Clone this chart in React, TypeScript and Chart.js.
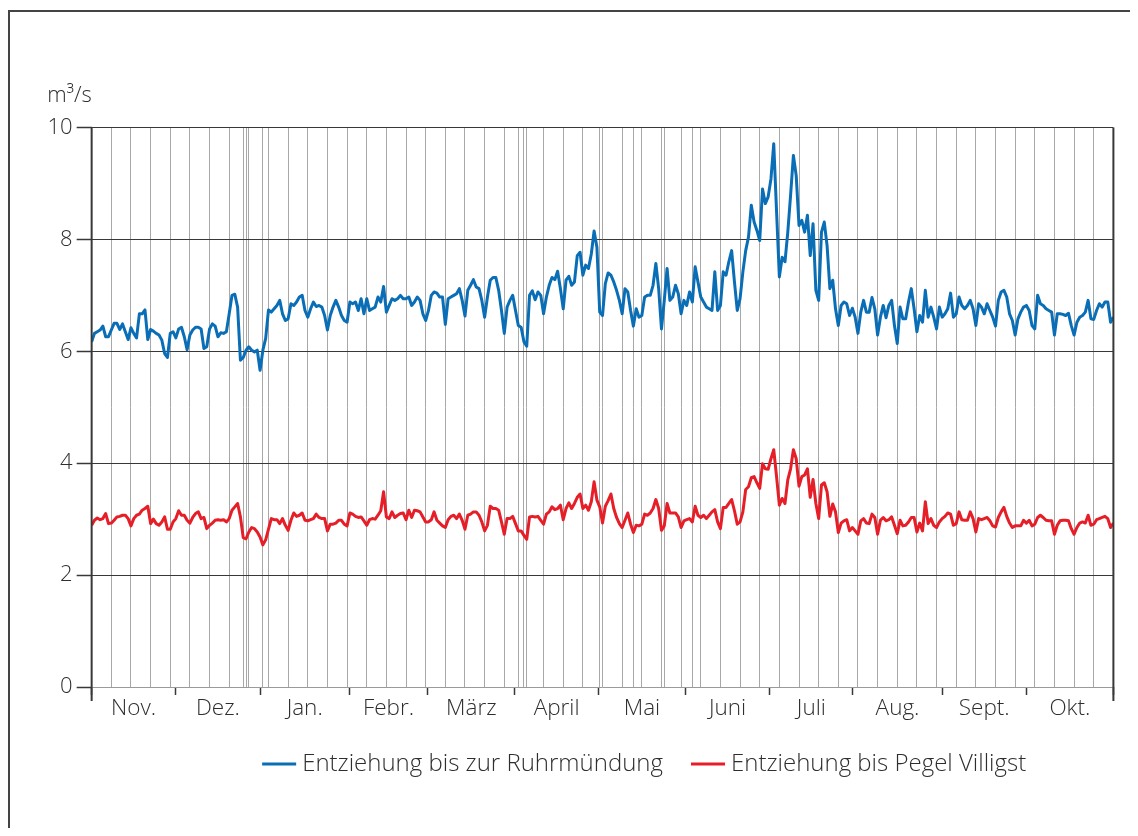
import { useEffect, useRef } from "react";
import { Chart, registerables } from "chart.js";

Chart.register(...registerables);

// ---- data (daily values, 1 Nov – 31 Oct) ----
const ruhrmuendung: number[] = [
  6.17,
  6.32, 6.35, 6.38, 6.45, 6.26, 6.26, 6.38, 6.5, 6.5, 6.39,
  6.49, 6.35, 6.21, 6.42, 6.32, 6.24, 6.67, 6.67, 6.74, 6.21,
  6.39, 6.36, 6.32, 6.29, 6.2, 5.96, 5.89, 6.32, 6.35, 6.24,
  6.4, 6.43, 6.26, 6.03, 6.29, 6.38, 6.43, 6.43, 6.4, 6.05,
  6.08, 6.4, 6.49, 6.45, 6.26, 6.33, 6.32, 6.35, 6.67, 7.0,
  7.02, 6.79, 5.84, 5.89, 6.02, 6.08, 6.02, 5.99, 6.02, 5.66,
  6.02, 6.23, 6.74, 6.7, 6.76, 6.82, 6.91, 6.67, 6.55, 6.58,
  6.85, 6.82, 6.88,
  6.97, 7.0, 6.73, 6.61, 6.76, 6.88, 6.8, 6.82, 6.79, 6.64,
  6.38, 6.64, 6.79, 6.91, 6.79, 6.64, 6.55, 6.52, 6.88, 6.85,
  6.88, 6.73, 6.94, 6.67, 6.94, 6.73, 6.76, 6.79, 6.97, 6.88,
  7.16, 6.7, 6.82, 6.94, 6.91, 6.94, 7.0, 6.94, 6.94, 6.97,
  6.82, 6.88, 6.97, 6.91, 6.67, 6.55, 6.73, 7.0, 7.06, 7.04,
  6.97, 6.97, 6.48, 6.94, 6.97, 7.0, 7.03, 7.12, 6.91, 6.63,
  7.09, 7.18, 7.28, 7.15, 7.12, 6.91, 6.61, 6.97, 7.27, 7.32,
  7.32, 7.09, 6.73, 6.32,
  6.79, 6.91, 7.0, 6.73, 6.46, 6.43, 6.17, 6.09, 7.0, 7.08,
  6.92, 7.06, 7.0, 6.67, 6.97, 7.18, 7.32, 7.28, 7.43, 7.12,
  6.76, 7.27, 7.34, 7.18, 7.24, 7.71, 7.77, 7.36, 7.54, 7.48,
  7.74, 8.15, 7.86, 6.7, 6.64, 7.21, 7.4, 7.36, 7.24, 7.09,
  6.91, 6.67, 7.12, 7.06, 6.73, 6.45, 6.76, 6.61, 6.64, 6.97,
  7.0, 7.0, 7.18, 7.57, 7.12, 6.4, 6.91, 7.48, 6.91, 6.97,
  7.18, 7.03, 6.67, 6.91, 6.82, 7.06, 6.88, 7.51, 7.24, 6.97,
  6.88, 6.79, 6.76,
  6.73, 7.42, 6.73, 6.82, 7.42, 7.36, 7.6, 7.8, 7.24, 6.73,
  6.94, 7.42, 7.8, 8.04, 8.61, 8.31, 8.16, 7.98, 8.9, 8.64,
  8.76, 9.08, 9.71, 8.5, 7.33, 7.68, 7.6, 8.13, 8.79, 9.5,
  9.14, 8.25, 8.34, 8.13, 8.43, 7.71, 8.28, 7.09, 6.91, 8.13,
  8.31, 7.89, 7.12, 7.27, 6.76, 6.46, 6.82, 6.88, 6.85, 6.64,
  6.77, 6.61, 6.32, 6.7, 6.91, 6.7, 6.7, 6.96, 6.76, 6.29,
  6.61, 6.82, 6.6, 6.82, 6.91, 6.46, 6.14, 6.79, 6.58, 6.58,
  6.88, 7.12, 6.76,
  6.35, 6.64, 6.52, 7.09, 6.61, 6.79, 6.61, 6.4, 6.79, 6.61,
  6.67, 6.76, 7.04, 6.61, 6.67, 6.97, 6.82, 6.76, 6.82, 6.91,
  6.76, 6.46, 6.85, 6.79, 6.67, 6.85, 6.73, 6.61, 6.45, 6.91,
  7.06, 7.09, 6.97, 6.67, 6.55, 6.29, 6.58, 6.7, 6.79, 6.82,
  6.73, 6.46, 6.4, 7.0, 6.85, 6.82, 6.76, 6.73, 6.7, 6.29,
  6.67, 6.67, 6.66, 6.64, 6.68, 6.46, 6.29, 6.52, 6.61, 6.64,
  6.7, 6.91, 6.58, 6.57, 6.73, 6.85, 6.79, 6.88, 6.88, 6.52,
  6.61,
];

const pegelVilligst: number[] = [
  2.89, 2.98, 3.02, 2.99, 3.01, 3.1, 2.92, 2.93, 2.98, 3.04,
  3.05, 3.07, 3.07, 3.01, 2.88, 3.01, 3.07, 3.09, 3.16, 3.19,
  3.23, 2.92, 3.0, 2.92, 2.89, 2.95, 3.04, 2.82, 2.82, 2.95,
  3.01, 3.15, 3.07, 3.07, 2.98, 2.93, 3.03, 3.1, 3.13, 3.01,
  3.03, 2.83, 2.89, 2.93, 2.98, 2.99, 2.98, 2.99, 2.95, 3.01,
  3.16, 3.22, 3.28, 3.04, 2.67, 2.65, 2.77, 2.85, 2.83, 2.77,
  2.68, 2.54, 2.63, 2.82, 3.01, 2.99, 2.99, 2.92, 3.01, 2.89,
  2.8, 2.98, 3.11, 3.05, 3.07, 3.11, 2.98, 2.97, 2.99, 3.01,
  3.09, 3.03, 3.01, 3.01, 2.79, 2.91, 2.91, 2.93, 2.98, 2.98,
  2.91, 2.88, 3.11, 3.09, 3.05, 3.03, 3.04, 2.97, 2.89, 2.99,
  3.01, 3.0, 3.07, 3.15, 3.49, 3.04, 3.01, 3.13, 3.03, 3.07,
  3.1, 3.11, 2.99, 3.16, 3.03, 3.16, 3.15, 3.13, 3.04, 2.95,
  2.95, 2.99, 3.13, 2.98, 2.93, 2.88, 2.85, 2.99, 3.05, 3.07,
  3.01, 3.09, 2.98, 2.82, 3.07, 3.09, 3.13, 3.13, 3.07, 2.95,
  2.79, 2.89, 3.23, 3.19, 3.19, 3.16, 2.95, 2.73, 3.01, 3.01,
  3.05, 2.92, 2.79, 2.79, 2.71, 2.64, 3.04, 3.05, 3.04, 3.05,
  2.98, 2.91, 3.09, 3.13, 3.22, 3.17, 3.19, 3.25, 2.99, 3.19,
  3.29, 3.19, 3.28, 3.39, 3.45, 3.19, 3.25, 3.16, 3.31, 3.67,
  3.34, 3.22, 2.93, 3.23, 3.33, 3.45, 3.19, 3.03, 2.92, 2.85,
  2.98, 3.11, 2.91, 2.76, 2.89, 2.88, 2.91, 3.09, 3.07, 3.11,
  3.19, 3.35, 3.19, 2.8, 2.88, 3.28, 3.11, 3.11, 3.11, 3.04,
  2.85, 2.97, 2.99, 3.01, 2.95, 3.23, 3.07, 3.03, 3.07, 3.01,
  3.07, 3.13, 3.17, 2.95, 2.83, 3.21, 3.21, 3.28, 3.35, 3.15,
  2.91, 2.95, 3.13, 3.53, 3.58, 3.74, 3.76, 3.65, 3.55, 3.99,
  3.9,
  3.89, 4.08, 4.24, 3.76, 3.25, 3.37, 3.28, 3.7, 3.9, 4.24,
  4.08, 3.59, 3.76, 3.79, 3.9, 3.39, 3.71, 3.28, 3.01, 3.61,
  3.65, 3.49, 3.05, 3.27, 3.13, 2.76, 2.93, 2.97, 2.99, 2.79,
  2.85, 2.79, 2.73, 2.97, 3.01, 2.93, 2.92, 3.09, 3.03, 2.73,
  2.98, 3.03, 2.97, 2.99, 3.04, 2.89, 2.74, 2.98, 2.88, 2.89,
  2.95, 3.03, 3.03, 2.77, 2.93, 2.79, 3.31, 2.92, 3.01, 2.89,
  2.85, 2.95, 3.01, 3.05, 3.11, 3.09, 2.89, 2.92, 3.13, 2.99,
  2.98, 2.98, 3.13, 3.01, 2.77, 3.01, 2.99, 3.01, 3.03, 2.97,
  2.88, 2.86, 3.03, 3.13, 3.21, 3.05, 2.93, 2.85, 2.88, 2.88,
  2.88, 2.98, 2.93, 2.98, 2.88, 2.91, 3.03, 3.07, 3.03, 2.98,
  2.97, 2.97, 2.73, 2.89, 2.97, 2.98, 2.98, 2.97, 2.83, 2.73,
  2.85, 2.93, 2.95, 2.93, 3.07, 2.89, 2.91, 2.99, 3.01, 3.03,
  3.05, 3.01, 2.85, 2.93,
];

const seriesLabels: string[] = [
  "Entziehung bis zur Ruhrmündung",
  "Entziehung bis Pegel Villigst",
];
const monthLabels: string[] = [
  "Nov.", "Dez.", "Jan.", "Febr.", "März", "April",
  "Mai", "Juni", "Juli", "Aug.", "Sept.", "Okt.",
];
// month boundaries on the day axis (day 0 = 1 Nov)
const monthBounds: number[] = [
  0, 29.9, 60.1, 91.7, 119.8, 150.7, 180.6, 211.5, 241.6, 271.2, 303, 333, 364,
];
// public holidays marked with an extra vertical line (days since 1 Nov)
const holidayDays: number[] = [54, 55, 61, 152, 155, 181, 193, 204, 214];
const sundayStep = 7;
const yTicks: number[] = [0, 2, 4, 6, 8, 10];
const unitLabel = "m³/s";

const FONT = '"Open Sans", "Noto Sans", sans-serif';
const TEXT = "#2e2e2e";
const BLUE = "#0a6eb6";
const RED = "#e61e28";
const DARK = "#383838";

export default function App() {
  const ref = useRef<HTMLCanvasElement | null>(null);

  useEffect(() => {
    document.documentElement.style.overflow = "hidden";
    const canvas = ref.current;
    if (!canvas) return;
    const lastDay = ruhrmuendung.length - 1;

    const gridDays: number[] = [];
    for (let d = sundayStep; d < lastDay; d += sundayStep) gridDays.push(d);
    holidayDays.forEach((d) => gridDays.push(d));
    gridDays.sort((a, b) => a - b);

    const monthTicks: { value: number; label: string; bound: boolean }[] = [];
    monthBounds.forEach((b, i) => {
      monthTicks.push({ value: b, label: "", bound: true });
      if (i < monthLabels.length) {
        monthTicks.push({
          value: (b + monthBounds[i + 1]) / 2,
          label: monthLabels[i],
          bound: false,
        });
      }
    });

    const overlay = {
      id: "overlay",
      afterDraw(chart: any) {
        const { ctx, chartArea: a } = chart;
        ctx.save();
        ctx.strokeStyle = DARK;
        ctx.lineWidth = 2;
        [a.left, a.right].forEach((x: number) => {
          ctx.beginPath();
          ctx.moveTo(x, a.top);
          ctx.lineTo(x, a.bottom + 14);
          ctx.stroke();
        });
        ctx.font = `300 22px ${FONT}`;
        ctx.fillStyle = TEXT;
        ctx.textAlign = "left";
        ctx.textBaseline = "middle";
        ctx.fillText(unitLabel, a.left - 44.5, a.top - 32);

        ctx.font = `300 24px ${FONT}`;
        let x = a.left + 170.5;
        const y = a.bottom + 77;
        chart.data.datasets.forEach((ds: any) => {
          ctx.strokeStyle = ds.borderColor;
          ctx.lineWidth = 3;
          ctx.beginPath();
          ctx.moveTo(x, y);
          ctx.lineTo(x + 34, y);
          ctx.stroke();
          x += 40;
          ctx.fillStyle = TEXT;
          ctx.fillText(ds.label, x, y);
          x += ctx.measureText(ds.label).width + 28;
        });
        ctx.restore();
      },
    };

    const chart = new Chart(canvas, {
      type: "line",
      data: {
        datasets: [
          {
            label: seriesLabels[0],
            data: ruhrmuendung.map((v, i) => ({ x: i, y: v })),
            borderColor: BLUE,
            backgroundColor: BLUE,
            borderWidth: 3,
            pointRadius: 0,
            tension: 0,
            borderJoinStyle: "round",
          },
          {
            label: seriesLabels[1],
            data: pegelVilligst.map((v, i) => ({ x: i, y: v })),
            borderColor: RED,
            backgroundColor: RED,
            borderWidth: 3,
            pointRadius: 0,
            tension: 0,
            borderJoinStyle: "round",
          },
        ],
      },
      options: {
        responsive: false,
        maintainAspectRatio: false,
        animation: false,
        layout: { padding: { top: 119.5, right: 16.6, left: 0, bottom: 0 } },
        plugins: {
          legend: { display: false },
          tooltip: { enabled: false },
        },
        scales: {
          x: {
            type: "linear",
            position: "bottom",
            min: 0,
            max: lastDay,
            afterBuildTicks: (s: any) => {
              s.ticks = gridDays.map((v) => ({ value: v }));
            },
            afterFit: (s: any) => {
              s.height = 0;
            },
            ticks: { display: false },
            grid: { color: "#a8a8a8", lineWidth: 1, drawTicks: false },
            border: { display: false },
          },
          xm: {
            type: "linear",
            position: "bottom",
            min: 0,
            max: lastDay,
            afterBuildTicks: (s: any) => {
              s.ticks = monthTicks.map((t) => ({ value: t.value }));
            },
            afterFit: (s: any) => {
              s.height = 141;
            },
            ticks: {
              autoSkip: false,
              maxRotation: 0,
              padding: 0,
              color: TEXT,
              font: { family: FONT, size: 22.5, weight: "300" },
              callback: (_v: any, i: number) => monthTicks[i]?.label ?? "",
            },
            grid: {
              drawOnChartArea: false,
              tickLength: 8,
              tickWidth: 1.5,
              tickColor: (c: any) =>
                monthTicks[c.index]?.bound ? DARK : "rgba(0,0,0,0)",
            },
            border: { display: false },
          },
          y: {
            min: 0,
            max: 10,
            afterBuildTicks: (s: any) => {
              s.ticks = yTicks.map((v) => ({ value: v }));
            },
            afterFit: (s: any) => {
              s.width = 83.65;
            },
            ticks: {
              padding: 4,
              color: TEXT,
              font: { family: FONT, size: 22, weight: "300" },
            },
            grid: {
              color: (c: any) => (c.tick && c.tick.value === 0 ? "#9a9a9a" : DARK),
              lineWidth: 1,
              tickLength: 15,
              tickColor: DARK,
              tickWidth: 1.5,
            },
            border: { display: false },
          },
        },
      },
      plugins: [overlay],
    } as any);

    return () => chart.destroy();
  }, []);

  return (
    <div style={{ position: "relative", width: 1122, height: 820 }}>
      <div
        style={{
          position: "absolute",
          left: 0,
          top: 2,
          width: 1130,
          height: 818,
          borderLeft: "2px solid #444",
          borderTop: "2px solid #444",
          boxSizing: "border-box",
        }}
      />
      <canvas
        ref={ref}
        width={1122}
        height={820}
        style={{ position: "absolute", left: 0, top: 0, width: 1122, height: 820 }}
      />
    </div>
  );
}
